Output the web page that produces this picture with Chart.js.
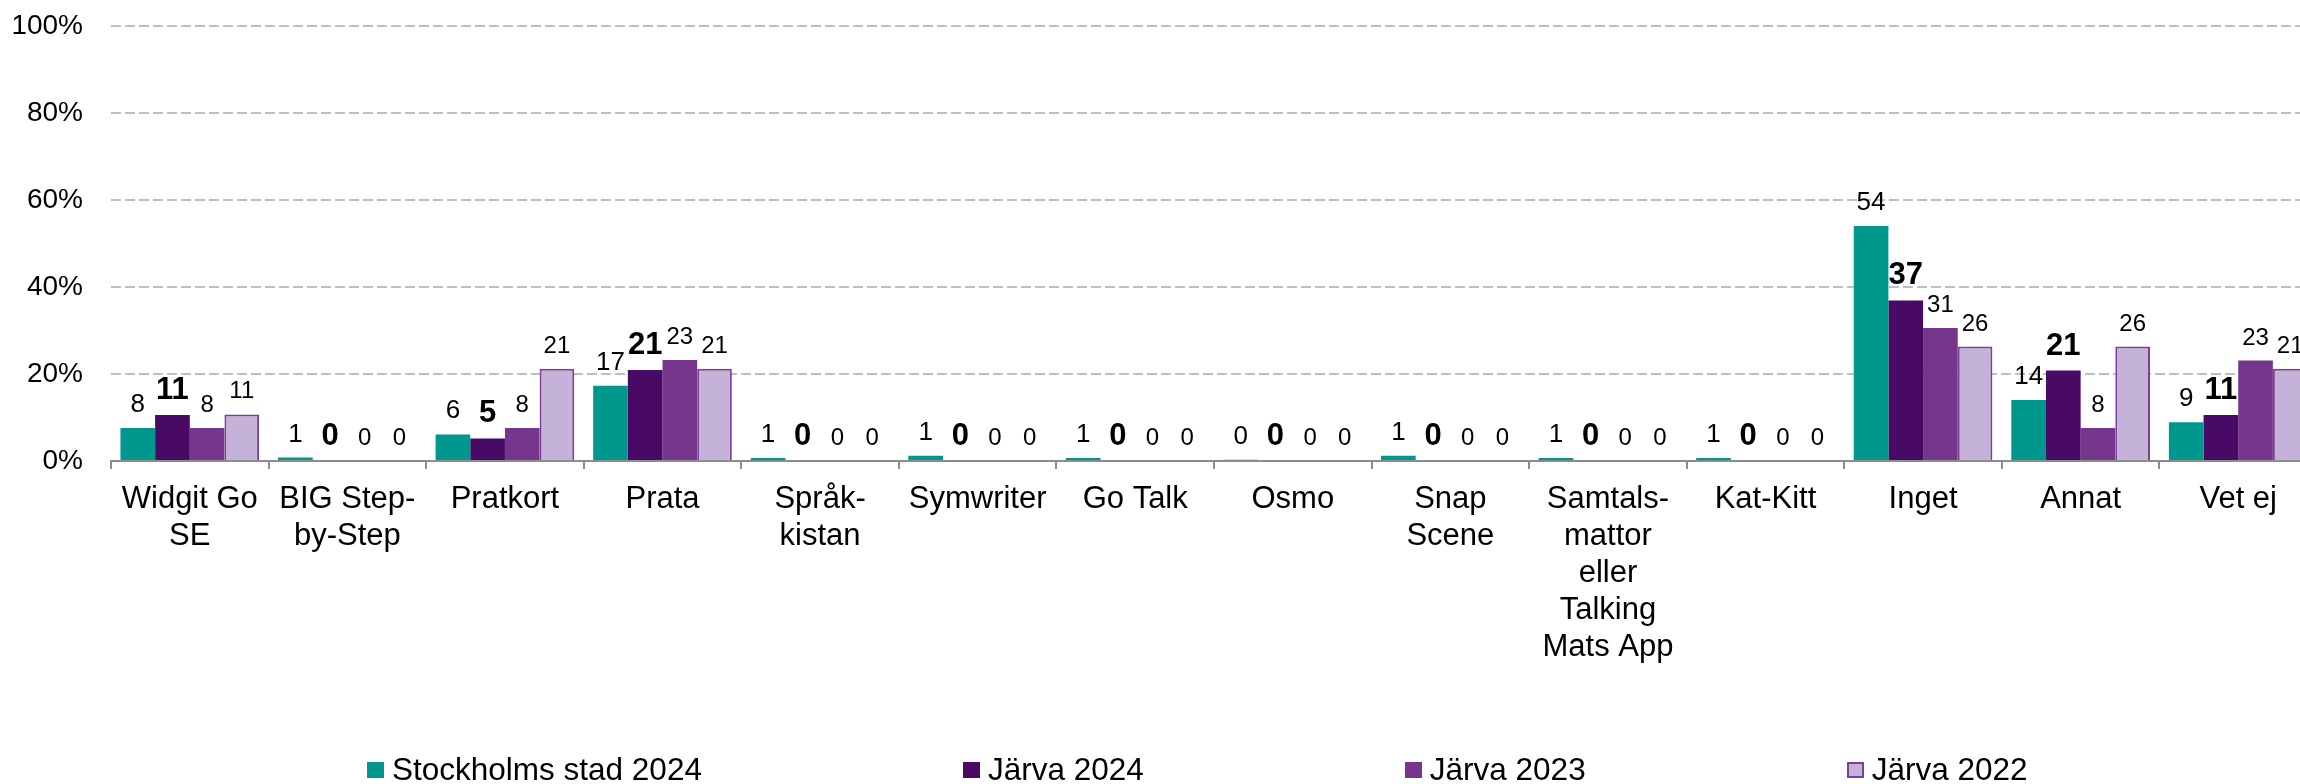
<!DOCTYPE html>
<html><head><meta charset="utf-8">
<script src="https://cdn.jsdelivr.net/npm/chart.js@4.4.1/dist/chart.umd.min.js"></script>
<style>
html,body{margin:0;padding:0;background:#fff;overflow:hidden;width:2300px;height:784px;}
#wrap{position:relative;width:2320px;height:784px;}
canvas{position:absolute;left:0;top:0;}
#legend{position:absolute;left:367px;top:754px;display:flex;column-gap:261px;font-family:"Liberation Sans",Arial,sans-serif;font-size:31.5px;color:#000;white-space:nowrap;}
.item{display:flex;align-items:center;}
.box{width:17px;height:16px;box-sizing:border-box;margin-right:8px;}
.t{line-height:1;}
</style></head>
<body><div id="wrap"><canvas id="c" width="2320" height="784"></canvas><div id="legend"></div></div>
<script>
const categories = [
  ['Widgit Go', 'SE'], ['BIG Step-', 'by-Step'], 'Pratkort', 'Prata', ['Språk-', 'kistan'],
  'Symwriter', 'Go Talk', 'Osmo', ['Snap', 'Scene'],
  ['Samtals-', 'mattor', 'eller', 'Talking', 'Mats App'], 'Kat-Kitt', 'Inget', 'Annat', 'Vet ej'
];
const seriesNames = ['Stockholms stad 2024', 'Järva 2024', 'Järva 2023', 'Järva 2022'];
const stockholm2024 = [7.6, 0.8, 6.1, 17.3, 0.7, 1.2, 0.7, 0.3, 1.2, 0.7, 0.7, 54.0, 14.0, 8.9];
const jarva2024     = [10.6, 0, 5.2, 20.9, 0, 0, 0, 0, 0, 0, 0, 36.9, 20.8, 10.6];
const jarva2023     = [7.6, 0, 7.6, 23.2, 0, 0, 0, 0, 0, 0, 0, 30.6, 7.6, 23.1];
const jarva2022     = [10.7, 0, 21.2, 21.2, 0, 0, 0, 0, 0, 0, 0, 26.3, 26.3, 21.2];
const yTickValues = [0, 20, 40, 60, 80, 100];

const fills = ['#00978F', '#480A64', '#76368C', '#C4B2D8'];
const borders = ['#00978F', '#480A64', '#76368C', '#7B3F98'];
const borderWidths = [0, 0, 0, 2];
const labelFonts = ['normal 26px', 'bold 31px', 'normal 24px', 'normal 24px'];
const FONT = '"Liberation Sans", Arial, sans-serif';

const seriesData = [stockholm2024, jarva2024, jarva2023, jarva2022];

const valueLabels = {
  id: 'valueLabels',
  afterDatasetsDraw(chart) {
    const ctx = chart.ctx;
    ctx.save();
    ctx.textAlign = 'center';
    ctx.textBaseline = 'alphabetic';
    ctx.fillStyle = '#000';
    chart.data.datasets.forEach((ds, di) => {
      const meta = chart.getDatasetMeta(di);
      ctx.font = labelFonts[di] + ' ' + FONT;
      meta.data.forEach((bar, i) => {
        ctx.fillText(String(Math.round(ds.data[i])), bar.x, bar.y - 16);
      });
    });
    ctx.restore();
  }
};

const chart = new Chart(document.getElementById('c'), {
  type: 'bar',
  data: {
    labels: categories,
    datasets: seriesNames.map((name, i) => ({
      label: name,
      data: seriesData[i],
      backgroundColor: fills[i],
      borderColor: borders[i],
      borderWidth: borderWidths[i],
      categoryPercentage: 0.88,
      barPercentage: 1.0
    }))
  },
  options: {
    responsive: false,
    animation: false,
    devicePixelRatio: 1,
    layout: { padding: { left: 0, top: 26, right: 3, bottom: 0 } },
    plugins: { legend: { display: false }, tooltip: { enabled: false } },
    scales: {
      x: {
        afterFit(scale) { scale.height = 323; },
        grid: { display: true, drawOnChartArea: false, drawTicks: true, tickLength: 8, color: '#8C8C8C', lineWidth: 2, offset: true },
        border: { display: true, color: '#8C8C8C', width: 2 },
        ticks: { color: '#000', font: { family: FONT, size: 31, lineHeight: 1.194 }, padding: 12, maxRotation: 0, minRotation: 0, autoSkip: false }
      },
      y: {
        min: 0, max: 100,
        afterFit(scale) { scale.width = 111; },
        afterBuildTicks(scale) { scale.ticks = yTickValues.map(v => ({ value: v })); },
        grid: { color: '#BFBFBF', lineWidth: 2, drawTicks: true, tickLength: 28, tickColor: 'rgba(0,0,0,0)' },
        border: { display: false, dash: [10, 4] },
        ticks: { color: '#000', font: { family: FONT, size: 28 }, padding: 0, callback: v => v + '%' }
      }
    }
  },
  plugins: [valueLabels]
});

const legend = document.getElementById('legend');
seriesNames.forEach((name, i) => {
  const item = document.createElement('div');
  item.className = 'item';
  const box = document.createElement('span');
  box.className = 'box';
  box.style.background = fills[i];
  if (borderWidths[i]) box.style.border = borderWidths[i] + 'px solid ' + borders[i];
  const t = document.createElement('span');
  t.className = 't';
  t.textContent = name;
  item.appendChild(box);
  item.appendChild(t);
  legend.appendChild(item);
});
</script>
</body></html>
